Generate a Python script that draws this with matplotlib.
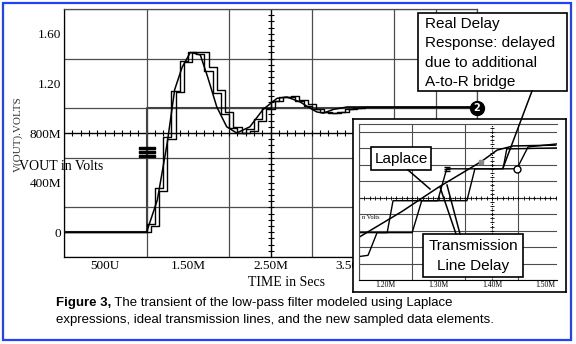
import numpy as np
import matplotlib.pyplot as plt
from matplotlib.patches import Rectangle

W, H = 576, 344

# Entrada escalón (V) contra tiempo (ms)
step_t = [0.0, 1.0, 1.0, 5.0]
step_v = [0.0, 0.0, 1.0, 1.0]

# Respuesta continua (modelo Laplace)
lap_t = [0.0, 1.00, 1.13, 1.25, 1.34, 1.43, 1.53, 1.65, 1.74, 1.85, 1.97, 2.09,
         2.25, 2.41, 2.58, 2.70, 2.86, 2.98, 3.06, 3.14, 3.26, 3.43, 3.91, 5.0]
lap_v = [0.0, 0.0, 0.26, 0.72, 1.15, 1.33, 1.45, 1.43, 1.25, 1.01, 0.85, 0.80,
         0.85, 0.99, 1.08, 1.09, 1.05, 1.00, 0.97, 0.96, 0.99, 1.01, 1.01, 1.01]

# Línea de transmisión ideal (escalones cada 0.1 ms)
tl_t = [0.0, 1.0, 1.1, 1.2, 1.3, 1.4, 1.5, 1.6, 1.7, 1.8, 1.9, 2.0, 2.1, 2.2, 2.3,
        2.4, 2.5, 2.6, 2.7, 2.8, 2.9, 3.0, 3.1, 3.2, 3.3, 3.4, 3.5, 3.6, 5.0]
tl_v = [0.0, 0.07, 0.36, 0.77, 1.14, 1.38, 1.45, 1.44, 1.30, 1.12, 0.95, 0.84, 0.80,
        0.83, 0.91, 1.00, 1.06, 1.09, 1.09, 1.06, 1.02, 0.99, 0.97, 0.96, 0.97,
        0.99, 1.00, 1.01, 1.01]

# Retardo real (puente A-to-R adicional)
rd_t = [0.0, 1.05, 1.15, 1.25, 1.35, 1.45, 1.55, 1.65, 1.75, 1.85, 1.95, 2.05, 2.15,
        2.25, 2.35, 2.45, 2.55, 2.65, 2.75, 2.85, 2.95, 3.05, 3.15, 3.25, 3.35,
        3.45, 3.55, 3.65, 5.0]
rd_v = [0.0, 0.05, 0.33, 0.75, 1.13, 1.37, 1.45, 1.45, 1.33, 1.15, 0.97, 0.85, 0.80,
        0.82, 0.90, 0.99, 1.06, 1.09, 1.10, 1.07, 1.03, 0.99, 0.97, 0.96, 0.97,
        0.99, 1.00, 1.01, 1.01]

# Detalle ampliado del flanco de subida
zoom_lap_t = [1.15, 1.23, 1.30, 1.38, 1.41, 1.44, 1.52]
zoom_lap_v = [0.32, 0.63, 0.93, 1.24, 1.38, 1.43, 1.44]
zoom_tl_t = [1.150, 1.250, 1.268, 1.298, 1.315, 1.447, 1.468, 1.522]
zoom_tl_v = [0.376, 0.376, 0.764, 0.764, 1.152, 1.152, 1.418, 1.455]
zoom_rd_t = [1.150, 1.167, 1.184, 1.203, 1.214, 1.353, 1.368, 1.421, 1.428, 1.522]
zoom_rd_v = [0.085, 0.10, 0.376, 0.376, 0.764, 0.764, 1.152, 1.152, 1.394, 1.406]

serif = "Liberation Serif"
sans = "Liberation Sans"
grid_c = "#4d4d4d"

fig = plt.figure(figsize=(W / 100, H / 100), dpi=100)

def caja(x0, y0, x1, y1):
    # rectángulo en píxeles de la figura -> fracciones
    return [x0 / W, 1 - y1 / H, (x1 - x0) / W, (y1 - y0) / H]

def marcas_h(axe, x, y, **kw):
    axe.plot(x, np.full_like(x, y), ls="none", marker="|", color="black", **kw)

def marcas_v(axe, x, y, **kw):
    axe.plot(np.full_like(y, x), y, ls="none", marker="_", color="black", **kw)

# ---- gráfico principal ----
ax = fig.add_axes(caja(64, 9, 477, 257))
ax.set_xlim(0, 5.0)
ax.set_ylim(-0.2, 1.8)
ax.set_xticks(np.arange(0, 5.01, 0.5), minor=True)
ax.set_yticks(np.arange(-0.2, 1.81, 0.2), minor=True)
ax.grid(True, which="minor", color=grid_c, lw=0.9)
ax.set_xticks([0.5, 1.5, 2.5, 3.5])
ax.set_xticklabels(["500U", "1.50M", "2.50M", "3.50M"])
ax.set_yticks([0, 0.4, 0.8, 1.2, 1.6])
ax.set_yticklabels(["0", "400M", "800M", "1.20", "1.60"])
ax.tick_params(which="both", length=0, labelsize=9.5, pad=2)
for lab in ax.get_xticklabels() + ax.get_yticklabels():
    lab.set_fontfamily(serif)
for s in ax.spines.values():
    s.set_color(grid_c)
    s.set_linewidth(0.9)
ax.spines["left"].set_color("black")
ax.spines["bottom"].set_color("black")

# ejes centrales con marcas
ax.axhline(0.8, color="black", lw=1.0)
ax.axvline(2.5, color="black", lw=1.0)
marcas_h(ax, np.arange(0.1, 5.0, 0.1), 0.8, ms=4, mew=0.8)
marcas_v(ax, 2.5, np.arange(-0.15, 1.8, 0.05), ms=4, mew=0.8)

ax.plot(step_t, step_v, color="#444444", lw=1.5, zorder=3)
ax.plot(lap_t, lap_v, color="black", lw=1.1, zorder=4)
ax.plot(tl_t, tl_v, color="black", lw=1.0, drawstyle="steps-post", zorder=4)
ax.plot(rd_t, rd_v, color="black", lw=1.0, drawstyle="steps-post", zorder=4)
ax.plot([step_t[1]], [0.646], marker=r"$\equiv$", ms=11, color="black", zorder=5)
ax.plot([step_t[-1]], [step_v[-1]], marker="o", ms=10, color="black",
        clip_on=False, zorder=6)
ax.text(step_t[-1], step_v[-1], "2", color="white", fontsize=7, fontweight="bold",
        ha="center", va="center", zorder=7, clip_on=False)

# ---- recuadro del detalle ----
frame = fig.add_axes(caja(353, 119, 566, 292), zorder=2)
frame.set_xticks([])
frame.set_yticks([])
frame.set_facecolor("white")
for s in frame.spines.values():
    s.set_linewidth(1.2)

ax2 = fig.add_axes(caja(359, 124, 557, 280), zorder=3)
ax2.set_facecolor("white")
ax2.set_xlim(1.15, 1.5225)
ax2.set_ylim(-0.2, 1.697)
ax2.set_xticks(np.arange(1.15, 1.52, 0.05), minor=True)
ax2.set_yticks(np.arange(-0.2, 1.7, 0.2), minor=True)
ax2.grid(True, which="minor", color=grid_c, lw=0.8)
ax2.set_xticks([1.2, 1.3, 1.4, 1.5])
ax2.set_xticklabels(["1.20M", "1.30M", "1.40M", "1.50M"])
ax2.set_yticks([])
ax2.tick_params(which="both", length=0, labelsize=5.5, pad=1)
for lab in ax2.get_xticklabels():
    lab.set_fontfamily(serif)
for s in ax2.spines.values():
    s.set_color(grid_c)
    s.set_linewidth(0.8)
ax2.spines["right"].set_visible(False)
ax2.spines["bottom"].set_color("black")
ax2.axhline(0.8, color="black", lw=0.8, ls=(0, (1, 1)))
ax2.axvline(1.4, color="black", lw=0.8, ls=(0, (1, 1)))
marcas_h(ax2, np.arange(1.16, 1.52, 0.01), 0.8, ms=2.5, mew=0.6)
marcas_v(ax2, 1.4, np.arange(-0.15, 1.7, 0.05), ms=2.5, mew=0.6)
ax2.text(1.155, 0.56, "n Volts", fontsize=4.5, family=serif, va="center")

ax2.plot(zoom_lap_t, zoom_lap_v, color="black", lw=1.1)
ax2.plot(zoom_tl_t, zoom_tl_v, color="black", lw=1.0)
ax2.plot(zoom_rd_t, zoom_rd_v, color="black", lw=1.0)
ax2.plot([zoom_tl_t[5]], [zoom_tl_v[5]], marker="o", ms=5, mfc="white",
         mec="black", mew=1.0)
ax2.plot([zoom_tl_t[4]], [zoom_tl_v[4]], marker=r"$\equiv$", ms=5, color="black")
ax2.plot([1.38], [1.24], marker="s", ms=3, color="#888888")

# ---- capa de anotaciones en píxeles ----
ov = fig.add_axes([0, 0, 1, 1], zorder=5)
ov.set_xlim(0, W)
ov.set_ylim(H, 0)
ov.axis("off")
ov.patch.set_alpha(0)

def recuadro(x0, y0, x1, y1):
    ov.add_patch(Rectangle((x0, y0), x1 - x0, y1 - y0, facecolor="white",
                           edgecolor="black", lw=1.2))

# líneas guía
ov.plot([532, 503], [91, 168], color="black", lw=1.1)
ov.plot([408, 430], [170, 189], color="black", lw=1.1)
ov.plot([456, 440], [234, 187], color="black", lw=1.1)
ov.plot([460, 447], [234, 185], color="black", lw=1.1)

recuadro(418, 13, 567, 91)
ov.text(425, 53, "Real Delay\nResponse: delayed\ndue to additional\nA-to-R bridge",
        family=sans, fontsize=11, va="center", ha="left", linespacing=1.48)
recuadro(371, 147, 431, 170)
ov.text(401, 158.5, "Laplace", family=sans, fontsize=11, ha="center", va="center")
recuadro(423, 234, 523, 277)
ov.text(473, 256, "Transmission\nLine Delay", family=sans, fontsize=11,
        ha="center", va="center", linespacing=1.5)

# rótulos de ejes
ov.text(287, 282, "TIME in Secs", family=serif, fontsize=10, ha="center", va="center")
ov.text(103, 167, "VOUT in Volts", family=serif, fontsize=10, ha="right", va="center")
ov.text(18, 134, "V(OUT).VOLTS", family=serif, fontsize=8, rotation=90,
        ha="center", va="center", color="#333333")

# pie de figura
t1 = ov.text(56, 303, "Figure 3,", family=sans, fontsize=9.5, fontweight="bold",
             va="center")
fig.canvas.draw()
bb = t1.get_window_extent()
x_fin = ov.transData.inverted().transform((bb.x1, bb.y0))[0]
ov.text(x_fin, 303, " The transient of the low-pass filter modeled using Laplace",
        family=sans, fontsize=9.5, va="center")
ov.text(56, 320, "expressions, ideal transmission lines, and the new sampled data elements.",
        family=sans, fontsize=9.5, va="center")

# borde azul
ov.add_patch(Rectangle((2.5, 2.5), 568.5, 337.5, facecolor="none",
                       edgecolor="#2340ff", lw=1.6))

fig.savefig("out.png", dpi=100)
